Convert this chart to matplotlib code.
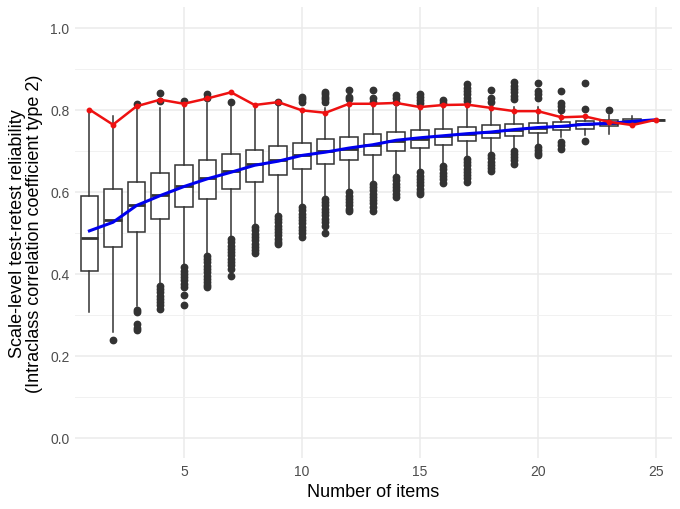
import matplotlib
matplotlib.use("Agg")
import matplotlib.pyplot as plt
from matplotlib.ticker import MultipleLocator

plt.rcParams["font.family"] = ["Liberation Sans", "DejaVu Sans"]

# number of items per scale
items = list(range(1, 26))

# box statistics
q1 = [0.405, 0.464, 0.501, 0.532, 0.561, 0.582, 0.607, 0.624, 0.641, 0.654,
      0.667, 0.678, 0.689, 0.699, 0.707, 0.714, 0.722, 0.731, 0.736, 0.742,
      0.749, 0.753, 0.759, 0.768, 0.775]
medians = [0.486, 0.531, 0.567, 0.592, 0.614, 0.633, 0.651, 0.667, 0.676, 0.688,
           0.698, 0.704, 0.714, 0.722, 0.729, 0.736, 0.740, 0.745, 0.751, 0.756,
           0.760, 0.765, 0.767, 0.773, 0.775]
q3 = [0.590, 0.605, 0.623, 0.644, 0.664, 0.678, 0.691, 0.702, 0.711, 0.719,
      0.727, 0.733, 0.740, 0.745, 0.749, 0.753, 0.758, 0.762, 0.764, 0.767,
      0.770, 0.773, 0.775, 0.776, 0.775]
whisker_low = [0.307, 0.258, 0.321, 0.376, 0.421, 0.449, 0.490, 0.519, 0.547, 0.568,
               0.588, 0.604, 0.625, 0.641, 0.653, 0.667, 0.686, 0.694, 0.706, 0.713,
               0.733, 0.739, 0.740, 0.766, 0.775]
whisker_high = [0.800, 0.784, 0.805, 0.804, 0.810, 0.815, 0.812, 0.808, 0.812, 0.802,
                0.803, 0.810, 0.810, 0.806, 0.802, 0.803, 0.805, 0.805, 0.805, 0.805,
                0.790, 0.786, 0.786, 0.784, 0.775]

outliers_high = [
    [], [], [0.813], [0.840, 0.821], [0.821], [0.837, 0.827], [0.819], [], [0.819],
    [0.831, 0.825, 0.819], [0.843, 0.837, 0.831, 0.825, 0.819],
    [0.847, 0.831, 0.825], [0.847, 0.827, 0.819], [0.835, 0.827, 0.819],
    [0.839, 0.831, 0.823, 0.815], [0.823, 0.815],
    [0.861, 0.853, 0.845, 0.837, 0.829, 0.821], [0.847, 0.827, 0.819],
    [0.866, 0.858, 0.850, 0.842, 0.834, 0.826], [0.864, 0.845, 0.837, 0.829],
    [0.846, 0.817, 0.808, 0.798], [0.864, 0.802], [0.799], [], [],
]
outliers_low = [
    [],
    [0.238],
    [0.310, 0.305, 0.276, 0.268, 0.262],
    [0.370, 0.362, 0.354, 0.346, 0.338, 0.330, 0.322, 0.314],
    [0.415, 0.407, 0.399, 0.391, 0.383, 0.375, 0.367, 0.347, 0.322],
    [0.443, 0.435, 0.427, 0.419, 0.411, 0.403, 0.395, 0.387, 0.379, 0.371, 0.366],
    [0.484, 0.476, 0.468, 0.460, 0.452, 0.444, 0.436, 0.428, 0.420, 0.412, 0.394],
    [0.513, 0.505, 0.497, 0.489, 0.481, 0.473, 0.465, 0.457, 0.451],
    [0.541, 0.533, 0.525, 0.517, 0.509, 0.501, 0.493, 0.485, 0.477, 0.472],
    [0.562, 0.554, 0.546, 0.538, 0.530, 0.522, 0.514, 0.506, 0.498, 0.490],
    [0.582, 0.574, 0.566, 0.558, 0.550, 0.542, 0.534, 0.526, 0.517, 0.500],
    [0.598, 0.590, 0.582, 0.574, 0.566, 0.558, 0.553],
    [0.619, 0.611, 0.603, 0.595, 0.587, 0.579, 0.571, 0.563, 0.553],
    [0.635, 0.627, 0.619, 0.611, 0.603, 0.595, 0.586],
    [0.647, 0.639, 0.631, 0.623, 0.615, 0.607, 0.599, 0.594],
    [0.662, 0.654, 0.646, 0.638, 0.630, 0.621],
    [0.680, 0.672, 0.664, 0.656, 0.648, 0.640, 0.632, 0.624],
    [0.689, 0.681, 0.673, 0.665, 0.657, 0.651],
    [0.700, 0.692, 0.684, 0.676, 0.668],
    [0.709, 0.701, 0.694, 0.688],
    [0.721, 0.713, 0.704],
    [0.724],
    [], [], [],
]

# mean reliability (blue) and selected-item reliability (red)
mean_icc = [0.504, 0.525, 0.566, 0.590, 0.612, 0.631, 0.647, 0.664, 0.674, 0.688,
            0.696, 0.706, 0.714, 0.725, 0.731, 0.736, 0.741, 0.745, 0.751, 0.756,
            0.759, 0.764, 0.766, 0.771, 0.775]
best_icc = [0.800, 0.763, 0.808, 0.824, 0.814, 0.827, 0.842, 0.811, 0.818, 0.798,
            0.792, 0.814, 0.814, 0.816, 0.806, 0.811, 0.812, 0.804, 0.796, 0.796,
            0.781, 0.783, 0.770, 0.762, 0.775]

dark = "#333333"

stats = []
for i in range(len(items)):
    stats.append({
        "q1": q1[i],
        "med": medians[i],
        "q3": q3[i],
        "whislo": whisker_low[i],
        "whishi": whisker_high[i],
        "fliers": outliers_low[i] + outliers_high[i],
    })

figure, axis = plt.subplots(figsize=(6.8, 5.1), dpi=100)
figure.subplots_adjust(left=0.1103, right=0.9878, bottom=0.1, top=0.9843)

axis.bxp(
    stats,
    positions=items,
    widths=0.75,
    patch_artist=True,
    showcaps=False,
    boxprops={"facecolor": "white", "edgecolor": dark, "linewidth": 1.1},
    whiskerprops={"color": dark, "linewidth": 1.1},
    medianprops={"color": dark, "linewidth": 2.0},
    flierprops={"marker": "o", "markerfacecolor": dark, "markeredgecolor": dark,
                "markersize": 4.6},
    zorder=2,
)

axis.plot(items, mean_icc, color="#0000EE", linewidth=2.2, zorder=3)
axis.plot(items, best_icc, color="#EE1111", linewidth=1.8, marker="o",
          markersize=3.2, zorder=4)

axis.set_xlim(0.39, 25.67)
axis.set_ylim(-0.05, 1.05)
axis.xaxis.set_major_locator(MultipleLocator(5))
axis.xaxis.set_major_formatter(plt.FuncFormatter(lambda v, p: f"{v:.0f}"))
axis.yaxis.set_major_locator(MultipleLocator(0.2))
axis.yaxis.set_minor_locator(MultipleLocator(0.1))
axis.yaxis.set_major_formatter(plt.FuncFormatter(lambda v, p: f"{v:.1f}"))

axis.grid(which="major", color="#EBEBEB", linewidth=1.1, zorder=0)
axis.grid(which="minor", axis="y", color="#F1F1F1", linewidth=0.7, zorder=0)
axis.set_axisbelow(True)
for spine in axis.spines.values():
    spine.set_visible(False)
axis.tick_params(which="both", length=0, labelsize=10, labelcolor="#4D4D4D",
                 pad=4)

axis.set_xlabel("Number of items", fontsize=13, color="black", labelpad=4)
axis.set_ylabel("Scale-level test-retest reliability\n"
                "(Intraclass correlation coefficient type 2)",
                fontsize=13, color="black", labelpad=5, linespacing=1.0)

figure.savefig("out.png", dpi=100)
